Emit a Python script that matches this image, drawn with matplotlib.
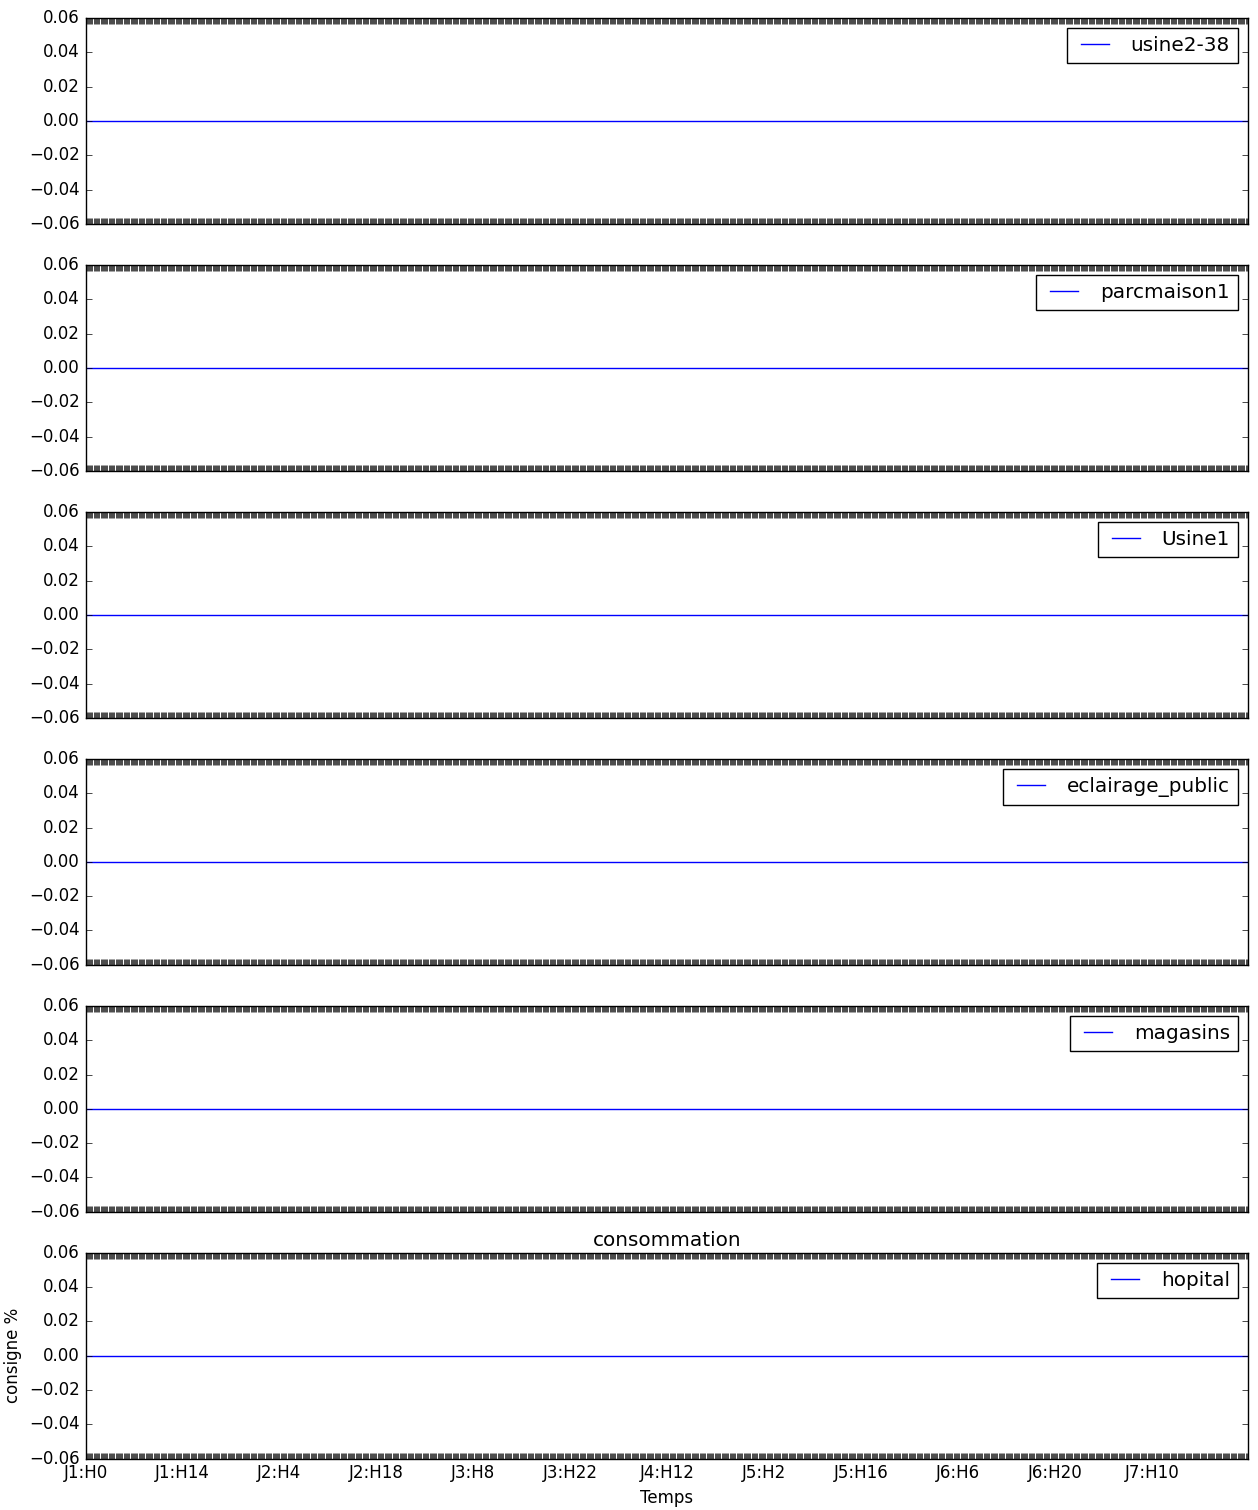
import matplotlib
matplotlib.use("Agg")
from matplotlib import pyplot as plt

plt.style.use("classic")

# pas de temps de 10 minutes sur 7 jours
pas_par_heure = 6
nb_pas = 7 * 24 * pas_par_heure
temps = list(range(nb_pas))
pas_label = 14 * pas_par_heure

# consignes (%) : toutes nulles
usine2_38 = [0.0] * nb_pas
parcmaison1 = [0.0] * nb_pas
usine1 = [0.0] * nb_pas
eclairage_public = [0.0] * nb_pas
magasins = [0.0] * nb_pas
hopital = [0.0] * nb_pas

noms = ["usine2-38", "parcmaison1", "Usine1", "eclairage_public", "magasins", "hopital"]
series = [usine2_38, parcmaison1, usine1, eclairage_public, magasins, hopital]

labels = []
for t in temps:
    if t % pas_label == 0:
        h = t // pas_par_heure
        labels.append("J%d:H%d" % (h // 24 + 1, h % 24))
    else:
        labels.append("")

fig, axes = plt.subplots(len(noms), 1, sharex=True, figsize=(12.58, 15.10), dpi=100)
fig.subplots_adjust(left=0.068, right=0.992, top=0.988, bottom=0.034, hspace=0.2)

for ax, nom, valeurs in zip(axes, noms, series):
    ax.plot(temps, valeurs, color="b", label=nom)
    ax.set_ylim(-0.06, 0.06)
    ax.set_xlim(0, nb_pas - 1)
    ax.legend(loc="upper right")

axes[-1].set_xticks(temps)
axes[-1].set_xticklabels(labels)
axes[-1].set_title("consommation")
axes[-1].set_ylabel("consigne %")
axes[-1].set_xlabel("Temps")

fig.savefig("out.png")
